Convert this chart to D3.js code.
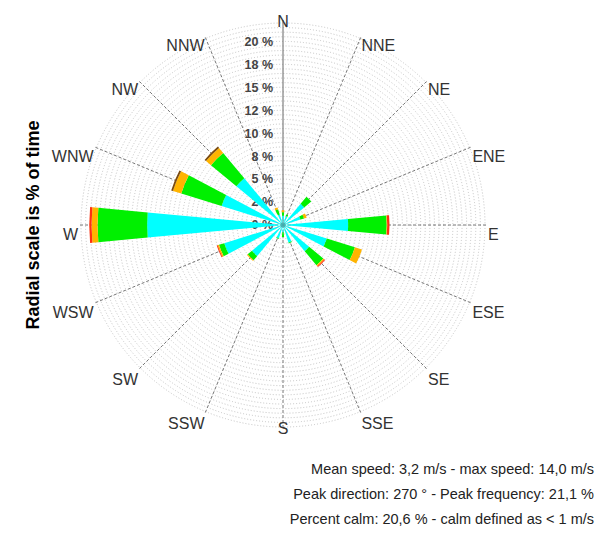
<!DOCTYPE html>
<meta charset="UTF-8">
<svg width="599" height="533"></svg>
<style>
body { margin: 0; background: #fff; }
svg { display: block; font-family: "Liberation Sans", Arial, sans-serif; }
.ring { fill: none; stroke: #c4c4c4; stroke-width: 1px; stroke-dasharray: 1,2; }
.spoke { stroke: #777; stroke-width: 1px; stroke-dasharray: 3,2; }
.naxis { stroke: #666; stroke-width: 1px; }
.dir { font-size: 16px; fill: #333; }
.tick { font-size: 12.5px; font-weight: bold; fill: #444; text-anchor: end; }
.note { font-size: 14.5px; fill: #222; text-anchor: end; }
.title { font-size: 18px; font-weight: bold; fill: #000; text-anchor: middle; }
</style>
<script src="https://d3js.org/d3.v7.min.js"></script>
<script>
var directions = ["N","NNE","NE","ENE","E","ESE","SE","SSE","S","SSW","SW","WSW","W","WNW","NW","NNW"]

// % of time per speed class, one value per direction (not cumulative)
var speedClasses = ["c1","c2","c3","c4","c5"]
var classColors = ["#00FFFF","#00F000","#FFB400","#FF3010","#7A4A10"]
var c1 = [1.0, 1.0, 3.0, 2.0, 7.1, 5.0, 3.7, 2.0, 0.8, 1.5, 4.4, 6.7, 14.8, 7.0, 6.6, 1.2]
var c2 = [0.4, 0.2, 1.0, 0.4, 4.2, 3.2, 2.0, 0.1, 0.5, 0.1, 0.6, 0.6, 5.4, 4.6, 3.6, 0.6]
var c3 = [0.2, 0, 0, 0.3, 0.05, 0.8, 0.15, 0, 0, 0, 0.1, 0.15, 0.65, 0.95, 0.7, 0.2]
var c4 = [0, 0, 0, 0, 0.25, 0, 0.1, 0, 0, 0, 0, 0.1, 0.25, 0, 0, 0]
var c5 = [0, 0, 0, 0, 0, 0, 0, 0, 0, 0, 0, 0, 0, 0.2, 0.2, 0]

var tickValues = [0, 2.5, 5, 7.5, 10, 12.5, 15, 17.5, 20]
var tickLabels = ["0 %","2 %","5 %","8 %","10 %","12 %","15 %","18 %","20 %"]
var maxPct = 22

var notes = [
  "Mean speed: 3,2 m/s - max speed: 14,0 m/s",
  "Peak direction: 270 \u00b0 - Peak frequency: 21,1 %",
  "Percent calm: 20,6 % - calm defined as < 1 m/s"
]

function windRose() {
  var cx = 283, cy = 225
  var svg = d3.select("svg")
  var g = svg.append("g").attr("transform", "translate(" + cx + "," + cy + ")")

  var r = d3.scaleLinear().domain([0, maxPct]).range([0, 202])
  var ang = d3.scaleLinear().domain([0, directions.length]).range([0, 2 * Math.PI])
  var half = 5.3 * Math.PI / 180

  // dotted rings
  g.append("g").selectAll("circle")
    .data(d3.range(0.5, maxPct + 0.01, 0.5))
    .enter().append("circle")
    .attr("class", "ring")
    .attr("r", d => r(d))

  // spokes
  var spokeR = r(maxPct) + 3
  g.append("g").selectAll("line")
    .data(directions)
    .enter().append("line")
    .attr("class", (d, i) => i == 0 ? "naxis" : "spoke")
    .attr("x1", 0).attr("y1", 0)
    .attr("x2", (d, i) => spokeR * Math.sin(ang(i)))
    .attr("y2", (d, i) => -spokeR * Math.cos(ang(i)))

  // direction labels
  g.append("g").selectAll("text")
    .data(directions)
    .enter().append("text")
    .attr("class", "dir")
    .attr("x", (d, i) => spokeR * Math.sin(ang(i)))
    .attr("y", (d, i) => {
      var s = Math.sin(ang(i)), c = Math.cos(ang(i))
      var y = -spokeR * c
      if (Math.abs(s) < 0.01) return y + (c > 0 ? 7 : 4)
      return y + 15
    })
    .style("text-anchor", (d, i) => {
      var s = Math.sin(ang(i))
      return Math.abs(s) < 0.01 ? "middle" : (s > 0 ? "start" : "end")
    })
    .text(d => d)

  // radial tick labels
  g.append("g").selectAll("text")
    .data(tickValues)
    .enter().append("text")
    .attr("class", "tick")
    .attr("x", -10)
    .attr("y", d => -r(d))
    .attr("dy", "0.35em")
    .text((d, i) => tickLabels[i])

  // stacked petals
  var rows = directions.map((d, i) => ({dir: d, i: i, c1: c1[i], c2: c2[i], c3: c3[i], c4: c4[i], c5: c5[i]}))
  var stacked = d3.stack().keys(speedClasses)(rows)
  var arc = d3.arc()
    .innerRadius(d => r(d[0]))
    .outerRadius(d => r(d[1]))
    .startAngle(d => ang(d.data.i) - half)
    .endAngle(d => ang(d.data.i) + half)

  g.append("g").selectAll("g")
    .data(stacked)
    .enter().append("g")
    .attr("fill", (d, k) => classColors[k])
    .selectAll("path")
    .data(d => d.filter(p => p[1] > p[0]))
    .enter().append("path")
    .attr("d", arc)

  // y title
  svg.append("text")
    .attr("class", "title")
    .attr("transform", "translate(39," + cy + ") rotate(-90)")
    .text("Radial scale is % of time")

  // summary notes
  svg.append("g").selectAll("text")
    .data(notes)
    .enter().append("text")
    .attr("class", "note")
    .attr("x", 594)
    .attr("y", (d, i) => 474 + i * 25)
    .text(d => d)
}

windRose()
</script>
